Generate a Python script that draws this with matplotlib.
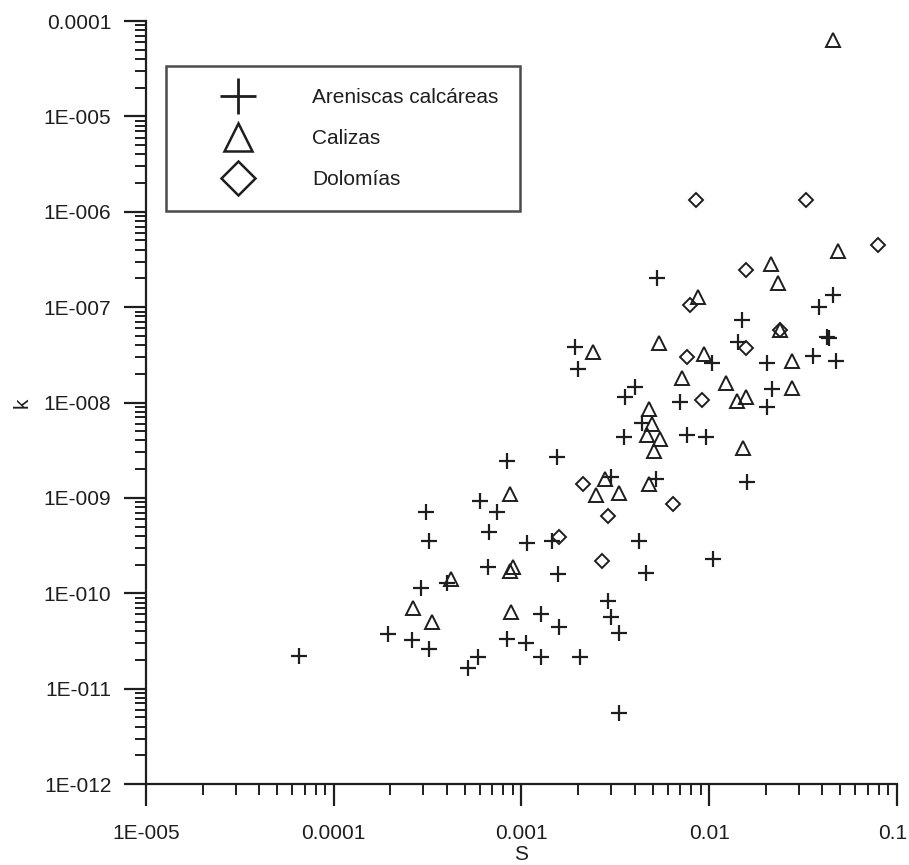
import numpy as np
import matplotlib
matplotlib.use("Agg")
import matplotlib.pyplot as plt
import matplotlib.transforms as mtransforms
from matplotlib.lines import Line2D
from matplotlib.ticker import LogLocator, NullFormatter

plt.rcParams['font.family'] = ['Liberation Sans', 'DejaVu Sans']

# Areniscas calcáreas (cruces)
s_aren = [6.5e-5, 1.95e-4, 2.6e-4, 3.2e-4, 2.9e-4, 4.0e-4, 5.2e-4, 5.9e-4, 6.6e-4, 8.4e-4,
          3.1e-4, 3.2e-4, 6.0e-4, 7.4e-4, 6.7e-4, 8.4e-4, 1.07e-3, 1.45e-3, 1.56e-3, 1.55e-3,
          1.93e-3, 2.0e-3, 3.56e-3, 4.0e-3, 3.5e-3, 4.4e-3, 3.0e-3, 5.2e-3, 4.2e-3, 4.6e-3,
          2.9e-3, 3.0e-3, 3.3e-3, 1.27e-3, 1.58e-3, 7.0e-3, 7.6e-3, 9.6e-3, 1.03e-2, 1.05e-2,
          1.59e-2, 2.03e-2, 2.03e-2, 2.16e-2, 1.49e-2, 1.42e-2, 3.57e-2, 4.73e-2, 4.24e-2, 4.35e-2,
          3.85e-2, 4.56e-2, 5.3e-3, 3.3e-3, 1.27e-3, 2.05e-3, 1.06e-3]
k_aren = [2.2e-11, 3.75e-11, 3.2e-11, 2.6e-11, 1.14e-10, 1.29e-10, 1.65e-11, 2.15e-11, 1.9e-10, 3.3e-11,
          7.1e-10, 3.5e-10, 9.3e-10, 7.1e-10, 4.4e-10, 2.44e-9, 3.4e-10, 3.5e-10, 1.6e-10, 2.7e-9,
          3.8e-8, 2.25e-8, 1.15e-8, 1.46e-8, 4.3e-9, 6.1e-9, 1.66e-9, 1.58e-9, 3.5e-10, 1.64e-10,
          8.3e-11, 5.7e-11, 3.85e-11, 6.1e-11, 4.45e-11, 1.01e-8, 4.6e-9, 4.4e-9, 2.6e-8, 2.3e-10,
          1.47e-9, 2.6e-8, 9.0e-9, 1.39e-8, 7.3e-8, 4.3e-8, 3.1e-8, 2.7e-8, 4.9e-8, 4.75e-8,
          1.0e-7, 1.34e-7, 2.0e-7, 5.5e-12, 2.15e-11, 2.15e-11, 3.0e-11]

# Calizas (triángulos)
s_cal = [4.56e-2, 4.85e-2, 2.13e-2, 2.32e-2, 8.7e-3, 2.38e-2, 5.4e-3, 2.4e-3, 9.4e-3, 2.76e-2,
         7.2e-3, 1.23e-2, 2.76e-2, 4.8e-3, 1.41e-2, 1.57e-2, 4.95e-3, 4.66e-3, 5.5e-3, 5.1e-3,
         1.51e-2, 2.8e-3, 4.8e-3, 2.5e-3, 3.3e-3, 8.7e-4, 9.0e-4, 8.7e-4, 8.8e-4, 4.2e-4,
         2.64e-4, 3.34e-4]
k_cal = [6.3e-5, 3.9e-7, 2.84e-7, 1.79e-7, 1.28e-7, 5.8e-8, 4.2e-8, 3.4e-8, 3.2e-8, 2.7e-8,
         1.8e-8, 1.6e-8, 1.42e-8, 8.6e-9, 1.04e-8, 1.15e-8, 6.0e-9, 4.6e-9, 4.1e-9, 3.1e-9,
         3.3e-9, 1.58e-9, 1.4e-9, 1.07e-9, 1.13e-9, 1.1e-9, 1.9e-10, 1.72e-10, 6.4e-11, 1.42e-10,
         7.0e-11, 5.0e-11]

# Dolomías (rombos)
s_dol = [8.5e-3, 3.28e-2, 7.9e-2, 1.57e-2, 7.9e-3, 2.38e-2, 1.57e-2, 7.6e-3, 9.1e-3, 2.13e-3,
         6.4e-3, 2.9e-3, 1.58e-3, 2.68e-3]
k_dol = [1.33e-6, 1.33e-6, 4.5e-7, 2.45e-7, 1.05e-7, 5.8e-8, 3.7e-8, 3.0e-8, 1.06e-8, 1.4e-9,
         8.6e-10, 6.5e-10, 3.9e-10, 2.2e-10]

x_ticks = [1e-5, 1e-4, 1e-3, 1e-2, 1e-1]
x_labels = ["1E-005", "0.0001", "0.001", "0.01", "0.1"]
y_ticks = [1e-12, 1e-11, 1e-10, 1e-9, 1e-8, 1e-7, 1e-6, 1e-5, 1e-4]
y_labels = ["1E-012", "1E-011", "1E-010", "1E-009", "1E-008", "1E-007", "1E-006", "1E-005", "0.0001"]

col = "#1e1e1e"
fs = 15

fig = plt.figure(figsize=(9.09, 8.65), dpi=100)
ax = fig.add_axes([0.1606, 0.0936, 0.8262, 0.8821])

ax.plot(s_aren, k_aren, linestyle="none", marker="+", ms=12, mew=1.6, color=col)
ax.plot(s_cal, k_cal, linestyle="none", marker="^", ms=9.5, mew=1.4, mfc="none", mec=col)
ax.plot(s_dol, k_dol, linestyle="none", marker="D", ms=7.5, mew=1.4, mfc="none", mec=col)

ax.set_xscale("log")
ax.set_yscale("log")
ax.set_xlim(1e-5, 1e-1)
ax.set_ylim(1e-12, 1e-4)

ax.spines["top"].set_visible(False)
ax.spines["right"].set_visible(False)
for sp in ("left", "bottom"):
    ax.spines[sp].set_linewidth(1.6)
    ax.spines[sp].set_color(col)

ax.set_xticks(x_ticks)
ax.set_xticklabels(x_labels)
ax.set_yticks(y_ticks)
ax.set_yticklabels(y_labels)
ax.xaxis.set_minor_locator(LogLocator(base=10, subs=np.arange(2, 10)))
ax.yaxis.set_minor_locator(LogLocator(base=10, subs=np.arange(2, 10)))
ax.xaxis.set_minor_formatter(NullFormatter())
ax.yaxis.set_minor_formatter(NullFormatter())
ax.tick_params(which="major", direction="out", length=16, width=1.6, color=col,
               labelsize=fs, labelcolor=col)
ax.tick_params(which="minor", direction="out", length=8, width=1.4, color=col)
ax.tick_params(axis="y", which="major", pad=9)
ax.tick_params(axis="x", which="major", pad=13)

# le dernier label "0.1" touche le bord : petit décalage vers la gauche
last = ax.get_xticklabels()[-1]
last.set_transform(last.get_transform() + mtransforms.ScaledTranslation(-4 / 100, 0, fig.dpi_scale_trans))

ax.set_xlabel("S", fontsize=fs, color=col, labelpad=1)
ax.set_ylabel("k", fontsize=fs, color=col, labelpad=9)

handles = [
    Line2D([], [], linestyle="none", marker="+", ms=26, mew=2.0, color=col),
    Line2D([], [], linestyle="none", marker="^", ms=20, mew=1.8, mfc="none", mec=col),
    Line2D([], [], linestyle="none", marker="D", ms=17, mew=1.8, mfc="none", mec=col),
]
leg = ax.legend(handles, ["Areniscas calcáreas", "Calizas", "Dolomías"],
                loc="upper left", bbox_to_anchor=(0.0266, 0.941),
                fontsize=fs, frameon=True, fancybox=False, borderpad=1.05,
                handlelength=4.8, handletextpad=1.15,
                labelspacing=1.06, borderaxespad=0, edgecolor=col)
leg.get_frame().set_linewidth(1.8)
for t in leg.get_texts():
    t.set_color(col)

fig.savefig("out.png", dpi=100)
